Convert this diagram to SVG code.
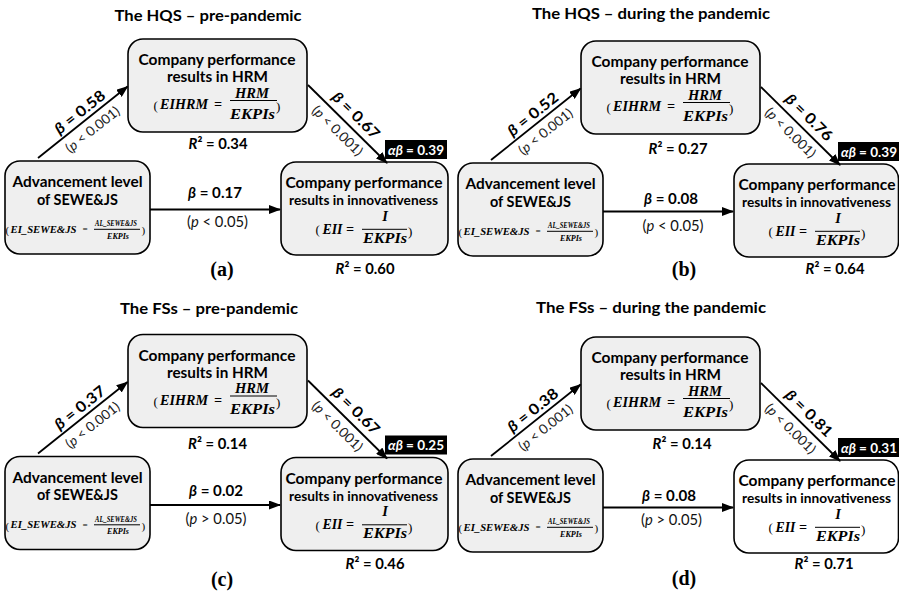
<svg xmlns="http://www.w3.org/2000/svg" width="899" height="592" viewBox="0 0 899 592">
<defs>
<marker id="arr" markerUnits="userSpaceOnUse" markerWidth="12" markerHeight="9" refX="11" refY="4.5" orient="auto"><path d="M0,0 L12,4.5 L0,9 z" fill="#000"/></marker>
<style>
.box{fill:#efefef;stroke:#000;stroke-width:1.6}
.wbox{fill:#fff;stroke:#000;stroke-width:1.6}
.s{font-family:Lato,"Liberation Sans",sans-serif;text-anchor:middle;fill:#000}
.h1{font-size:15px;font-weight:bold}
.h2{font-size:13.5px;font-weight:bold}
.ttl{font-size:15px;font-weight:bold}
.f{font-family:"Liberation Serif","DejaVu Serif",serif;font-weight:bold;font-style:italic;fill:#000}
.fp{font-family:"Liberation Serif","DejaVu Serif",serif;fill:#000}
.fl{stroke:#000;stroke-width:1}
.conn{stroke:#000;stroke-width:1.8;fill:none;marker-end:url(#arr)}
.bl{font-size:15px;font-weight:bold}
.pl{font-size:13.5px;fill:#222}
.ph{font-size:15px;fill:#111}
.i{font-style:italic}
.abt{font-size:14px;font-weight:bold;fill:#fff}
.lt{font-family:"Liberation Serif","Times New Roman",serif;font-size:20px;font-weight:bold;text-anchor:middle;fill:#000}
</style>
</defs>
<rect width="899" height="592" fill="#fff"/>

<!-- Panel (a) -->
<g id="panel-a">
<text class="s ttl" x="208" y="20.5" textLength="187" lengthAdjust="spacingAndGlyphs">The HQS – pre-pandemic</text>
<g id="a-sewe">
<rect class="box" x="5" y="161" width="145" height="93" rx="15"/>
<text class="s h1" x="77.5" y="187" textLength="130" lengthAdjust="spacingAndGlyphs">Advancement level</text>
<text class="s h1" x="77.5" y="204.5" textLength="81" lengthAdjust="spacingAndGlyphs">of SEWE&amp;JS</text>
<text class="fp" x="5.5" y="234" font-size="11">(</text>
<text class="f" x="10.5" y="232.5" font-size="11" textLength="66" lengthAdjust="spacingAndGlyphs">EI_SEWE&amp;JS</text>
<text class="f" x="85" y="232" font-size="9" text-anchor="middle" font-style="normal">=</text>
<text class="f" x="116" y="226" font-size="7.5" text-anchor="middle" textLength="42" lengthAdjust="spacingAndGlyphs">AL_SEWE&amp;JS</text>
<line class="fl" x1="94" y1="229.3" x2="140" y2="229.3" stroke-width="0.7"/>
<text class="f" x="118" y="238.8" font-size="7.5" text-anchor="middle" textLength="22" lengthAdjust="spacingAndGlyphs">EKPIs</text>
<text class="fp" x="141.5" y="234" font-size="11">)</text>
</g>
<g id="a-hrm">
<rect class="box" x="128" y="39" width="179" height="93" rx="15"/>
<text class="s h1" x="217" y="65" textLength="157" lengthAdjust="spacingAndGlyphs">Company performance</text>
<text class="s h1" x="217.5" y="82" textLength="101" lengthAdjust="spacingAndGlyphs">results in HRM</text>
<text class="fp" x="153.5" y="110" font-size="13">(</text>
<text class="f" x="160" y="109" font-size="14.5" textLength="48" lengthAdjust="spacingAndGlyphs">EIHRM</text>
<text class="f" x="218" y="109" font-size="14" text-anchor="middle" font-style="normal">=</text>
<text class="f" x="252" y="97.5" font-size="14.5" text-anchor="middle" textLength="34" lengthAdjust="spacingAndGlyphs">HRM</text>
<line class="fl" x1="230" y1="100.5" x2="277" y2="100.5"/>
<text class="f" x="252.5" y="118.5" font-size="14.5" text-anchor="middle" textLength="45" lengthAdjust="spacingAndGlyphs">EKPIs</text>
<text class="fp" x="276" y="111" font-size="13">)</text>
<text class="s bl" x="218" y="149" textLength="59" lengthAdjust="spacingAndGlyphs"><tspan class="i">R</tspan>² = 0.34</text>
</g>
<g id="a-inn">
<rect class="box" x="281" y="162" width="167" height="93" rx="15"/>
<text class="s h1" x="364" y="188" textLength="157" lengthAdjust="spacingAndGlyphs">Company performance</text>
<text class="s h2" x="363.5" y="205" textLength="149" lengthAdjust="spacingAndGlyphs">results in innovativeness</text>
<text class="fp" x="315.5" y="234" font-size="13">(</text>
<text class="f" x="322.5" y="233.5" font-size="14.5" textLength="20" lengthAdjust="spacingAndGlyphs">EII</text>
<text class="f" x="350" y="233.5" font-size="14" text-anchor="middle" font-style="normal">=</text>
<text class="f" x="385" y="220.5" font-size="14.5" text-anchor="middle">I</text>
<line class="fl" x1="362" y1="229.3" x2="407" y2="229.3"/>
<text class="f" x="385" y="242.5" font-size="14.5" text-anchor="middle" textLength="44" lengthAdjust="spacingAndGlyphs">EKPIs</text>
<text class="fp" x="408" y="236" font-size="13">)</text>
<text class="s bl" x="365" y="274" textLength="59" lengthAdjust="spacingAndGlyphs"><tspan class="i">R</tspan>² = 0.60</text>
</g>
<g id="a-edges">
<line class="conn" x1="38" y1="158" x2="127.5" y2="86.5"/>
<line class="conn" x1="308" y1="85" x2="387" y2="163"/>
<line class="conn" x1="150" y1="209.5" x2="280" y2="209.5"/>
<g transform="translate(82.75,122.25) rotate(-38.6)">
<text class="s bl" x="4" y="-4.5" textLength="60" lengthAdjust="spacingAndGlyphs"><tspan class="i">β</tspan> = 0.58</text>
<text class="s pl" x="3" y="16.5" textLength="65" lengthAdjust="spacingAndGlyphs">(<tspan class="i">p</tspan> &lt; 0.001)</text>
</g>
<g transform="translate(347.5,124) rotate(44.6)">
<text class="s bl" x="0" y="-7" textLength="60" lengthAdjust="spacingAndGlyphs"><tspan class="i">β</tspan> = 0.67</text>
<text class="s pl" x="-2.5" y="16.5" textLength="65" lengthAdjust="spacingAndGlyphs">(<tspan class="i">p</tspan> &lt; 0.001)</text>
</g>
<text class="s bl" x="215" y="198" textLength="54" lengthAdjust="spacingAndGlyphs"><tspan class="i">β</tspan> = 0.17</text>
<text class="s ph" x="217.5" y="227" textLength="61" lengthAdjust="spacingAndGlyphs">(<tspan class="i">p</tspan> &lt; 0.05)</text>
<rect x="385" y="140" width="62" height="19" fill="#000"/>
<text class="s abt" x="416" y="154.5" textLength="56" lengthAdjust="spacingAndGlyphs"><tspan class="i">αβ</tspan> = 0.39</text>
</g>
<text class="lt" x="222" y="276">(a)</text>
</g>

<!-- Panel (b) -->
<g id="panel-b" transform="translate(453,2)">
<text class="s ttl" x="198" y="17" textLength="238" lengthAdjust="spacingAndGlyphs">The HQS – during the pandemic</text>
<g id="b-sewe">
<rect class="box" x="5" y="161" width="145" height="93" rx="15"/>
<text class="s h1" x="77.5" y="187" textLength="130" lengthAdjust="spacingAndGlyphs">Advancement level</text>
<text class="s h1" x="77.5" y="204.5" textLength="81" lengthAdjust="spacingAndGlyphs">of SEWE&amp;JS</text>
<text class="fp" x="5.5" y="234" font-size="11">(</text>
<text class="f" x="10.5" y="232.5" font-size="11" textLength="66" lengthAdjust="spacingAndGlyphs">EI_SEWE&amp;JS</text>
<text class="f" x="85" y="232" font-size="9" text-anchor="middle" font-style="normal">=</text>
<text class="f" x="116" y="226" font-size="7.5" text-anchor="middle" textLength="42" lengthAdjust="spacingAndGlyphs">AL_SEWE&amp;JS</text>
<line class="fl" x1="94" y1="229.3" x2="140" y2="229.3" stroke-width="0.7"/>
<text class="f" x="118" y="238.8" font-size="7.5" text-anchor="middle" textLength="22" lengthAdjust="spacingAndGlyphs">EKPIs</text>
<text class="fp" x="141.5" y="234" font-size="11">)</text>
</g>
<g id="b-hrm">
<rect class="box" x="128" y="39" width="179" height="93" rx="15"/>
<text class="s h1" x="217" y="65" textLength="157" lengthAdjust="spacingAndGlyphs">Company performance</text>
<text class="s h1" x="217.5" y="82" textLength="101" lengthAdjust="spacingAndGlyphs">results in HRM</text>
<text class="fp" x="153.5" y="110" font-size="13">(</text>
<text class="f" x="160" y="109" font-size="14.5" textLength="48" lengthAdjust="spacingAndGlyphs">EIHRM</text>
<text class="f" x="218" y="109" font-size="14" text-anchor="middle" font-style="normal">=</text>
<text class="f" x="252" y="97.5" font-size="14.5" text-anchor="middle" textLength="34" lengthAdjust="spacingAndGlyphs">HRM</text>
<line class="fl" x1="230" y1="100.5" x2="277" y2="100.5"/>
<text class="f" x="252.5" y="118.5" font-size="14.5" text-anchor="middle" textLength="45" lengthAdjust="spacingAndGlyphs">EKPIs</text>
<text class="fp" x="276" y="111" font-size="13">)</text>
<text class="s bl" x="225" y="152" textLength="59" lengthAdjust="spacingAndGlyphs"><tspan class="i">R</tspan>² = 0.27</text>
</g>
<g id="b-inn">
<rect class="box" x="281" y="162" width="164.5" height="93" rx="15"/>
<text class="s h1" x="364" y="188" textLength="157" lengthAdjust="spacingAndGlyphs">Company performance</text>
<text class="s h2" x="363.5" y="205" textLength="149" lengthAdjust="spacingAndGlyphs">results in innovativeness</text>
<text class="fp" x="315.5" y="234" font-size="13">(</text>
<text class="f" x="322.5" y="233.5" font-size="14.5" textLength="20" lengthAdjust="spacingAndGlyphs">EII</text>
<text class="f" x="350" y="233.5" font-size="14" text-anchor="middle" font-style="normal">=</text>
<text class="f" x="385" y="220.5" font-size="14.5" text-anchor="middle">I</text>
<line class="fl" x1="362" y1="229.3" x2="407" y2="229.3"/>
<text class="f" x="385" y="242.5" font-size="14.5" text-anchor="middle" textLength="44" lengthAdjust="spacingAndGlyphs">EKPIs</text>
<text class="fp" x="408" y="236" font-size="13">)</text>
<text class="s bl" x="382" y="272" textLength="59" lengthAdjust="spacingAndGlyphs"><tspan class="i">R</tspan>² = 0.64</text>
</g>
<g id="b-edges">
<line class="conn" x1="38" y1="158" x2="127.5" y2="86.5"/>
<line class="conn" x1="308" y1="85" x2="387" y2="163"/>
<line class="conn" x1="150" y1="209.5" x2="280" y2="209.5"/>
<g transform="translate(82.75,122.25) rotate(-38.6)">
<text class="s bl" x="4" y="-4.5" textLength="60" lengthAdjust="spacingAndGlyphs"><tspan class="i">β</tspan> = 0.52</text>
<text class="s pl" x="3" y="16.5" textLength="65" lengthAdjust="spacingAndGlyphs">(<tspan class="i">p</tspan> &lt; 0.001)</text>
</g>
<g transform="translate(347.5,124) rotate(44.6)">
<text class="s bl" x="0" y="-7" textLength="60" lengthAdjust="spacingAndGlyphs"><tspan class="i">β</tspan> = 0.76</text>
<text class="s pl" x="-2.5" y="16.5" textLength="65" lengthAdjust="spacingAndGlyphs">(<tspan class="i">p</tspan> &lt; 0.001)</text>
</g>
<text class="s bl" x="218" y="202" textLength="54" lengthAdjust="spacingAndGlyphs"><tspan class="i">β</tspan> = 0.08</text>
<text class="s ph" x="220" y="229" textLength="61" lengthAdjust="spacingAndGlyphs">(<tspan class="i">p</tspan> &lt; 0.05)</text>
<rect x="385" y="140" width="62" height="19" fill="#000"/>
<text class="s abt" x="416" y="154.5" textLength="56" lengthAdjust="spacingAndGlyphs"><tspan class="i">αβ</tspan> = 0.39</text>
</g>
<text class="lt" x="231" y="274">(b)</text>
</g>

<!-- Panel (c) -->
<g id="panel-c" transform="translate(0,295.5)">
<text class="s ttl" x="209" y="18.5" textLength="178" lengthAdjust="spacingAndGlyphs">The FSs – pre-pandemic</text>
<g id="c-sewe">
<rect class="box" x="5" y="161" width="145" height="93" rx="15"/>
<text class="s h1" x="77.5" y="187" textLength="130" lengthAdjust="spacingAndGlyphs">Advancement level</text>
<text class="s h1" x="77.5" y="204.5" textLength="81" lengthAdjust="spacingAndGlyphs">of SEWE&amp;JS</text>
<text class="fp" x="5.5" y="234" font-size="11">(</text>
<text class="f" x="10.5" y="232.5" font-size="11" textLength="66" lengthAdjust="spacingAndGlyphs">EI_SEWE&amp;JS</text>
<text class="f" x="85" y="232" font-size="9" text-anchor="middle" font-style="normal">=</text>
<text class="f" x="116" y="226" font-size="7.5" text-anchor="middle" textLength="42" lengthAdjust="spacingAndGlyphs">AL_SEWE&amp;JS</text>
<line class="fl" x1="94" y1="229.3" x2="140" y2="229.3" stroke-width="0.7"/>
<text class="f" x="118" y="238.8" font-size="7.5" text-anchor="middle" textLength="22" lengthAdjust="spacingAndGlyphs">EKPIs</text>
<text class="fp" x="141.5" y="234" font-size="11">)</text>
</g>
<g id="c-hrm">
<rect class="box" x="128" y="39" width="179" height="93" rx="15"/>
<text class="s h1" x="217" y="65" textLength="157" lengthAdjust="spacingAndGlyphs">Company performance</text>
<text class="s h1" x="217.5" y="82" textLength="101" lengthAdjust="spacingAndGlyphs">results in HRM</text>
<text class="fp" x="153.5" y="110" font-size="13">(</text>
<text class="f" x="160" y="109" font-size="14.5" textLength="48" lengthAdjust="spacingAndGlyphs">EIHRM</text>
<text class="f" x="218" y="109" font-size="14" text-anchor="middle" font-style="normal">=</text>
<text class="f" x="252" y="97.5" font-size="14.5" text-anchor="middle" textLength="34" lengthAdjust="spacingAndGlyphs">HRM</text>
<line class="fl" x1="230" y1="100.5" x2="277" y2="100.5"/>
<text class="f" x="252.5" y="118.5" font-size="14.5" text-anchor="middle" textLength="45" lengthAdjust="spacingAndGlyphs">EKPIs</text>
<text class="fp" x="276" y="111" font-size="13">)</text>
<text class="s bl" x="217.5" y="153.5" textLength="59" lengthAdjust="spacingAndGlyphs"><tspan class="i">R</tspan>² = 0.14</text>
</g>
<g id="c-inn">
<rect class="box" x="281" y="162" width="167" height="93" rx="15"/>
<text class="s h1" x="364" y="188" textLength="157" lengthAdjust="spacingAndGlyphs">Company performance</text>
<text class="s h2" x="363.5" y="205" textLength="149" lengthAdjust="spacingAndGlyphs">results in innovativeness</text>
<text class="fp" x="315.5" y="234" font-size="13">(</text>
<text class="f" x="322.5" y="233.5" font-size="14.5" textLength="20" lengthAdjust="spacingAndGlyphs">EII</text>
<text class="f" x="350" y="233.5" font-size="14" text-anchor="middle" font-style="normal">=</text>
<text class="f" x="385" y="220.5" font-size="14.5" text-anchor="middle">I</text>
<line class="fl" x1="362" y1="229.3" x2="407" y2="229.3"/>
<text class="f" x="385" y="242.5" font-size="14.5" text-anchor="middle" textLength="44" lengthAdjust="spacingAndGlyphs">EKPIs</text>
<text class="fp" x="408" y="236" font-size="13">)</text>
<text class="s bl" x="375" y="273.5" textLength="59" lengthAdjust="spacingAndGlyphs"><tspan class="i">R</tspan>² = 0.46</text>
</g>
<g id="c-edges">
<line class="conn" x1="38" y1="158" x2="127.5" y2="86.5"/>
<line class="conn" x1="308" y1="85" x2="387" y2="163"/>
<line class="conn" x1="150" y1="209.5" x2="280" y2="209.5"/>
<g transform="translate(82.75,122.25) rotate(-38.6)">
<text class="s bl" x="4" y="-4.5" textLength="60" lengthAdjust="spacingAndGlyphs"><tspan class="i">β</tspan> = 0.37</text>
<text class="s pl" x="3" y="16.5" textLength="65" lengthAdjust="spacingAndGlyphs">(<tspan class="i">p</tspan> &lt; 0.001)</text>
</g>
<g transform="translate(347.5,124) rotate(44.6)">
<text class="s bl" x="0" y="-7" textLength="60" lengthAdjust="spacingAndGlyphs"><tspan class="i">β</tspan> = 0.67</text>
<text class="s pl" x="-2.5" y="16.5" textLength="65" lengthAdjust="spacingAndGlyphs">(<tspan class="i">p</tspan> &lt; 0.001)</text>
</g>
<text class="s bl" x="216" y="200" textLength="54" lengthAdjust="spacingAndGlyphs"><tspan class="i">β</tspan> = 0.02</text>
<text class="s ph" x="216" y="228" textLength="61" lengthAdjust="spacingAndGlyphs">(<tspan class="i">p</tspan> &gt; 0.05)</text>
<rect x="385" y="140" width="62" height="19" fill="#000"/>
<text class="s abt" x="416" y="154.5" textLength="56" lengthAdjust="spacingAndGlyphs"><tspan class="i">αβ</tspan> = 0.25</text>
</g>
<text class="lt" x="222" y="290">(c)</text>
</g>

<!-- Panel (d) -->
<g id="panel-d" transform="translate(453,298)">
<text class="s ttl" x="198" y="15.3" textLength="230" lengthAdjust="spacingAndGlyphs">The FSs – during the pandemic</text>
<g id="d-sewe">
<rect class="box" x="5" y="161" width="145" height="93" rx="15"/>
<text class="s h1" x="77.5" y="187" textLength="130" lengthAdjust="spacingAndGlyphs">Advancement level</text>
<text class="s h1" x="77.5" y="204.5" textLength="81" lengthAdjust="spacingAndGlyphs">of SEWE&amp;JS</text>
<text class="fp" x="5.5" y="234" font-size="11">(</text>
<text class="f" x="10.5" y="232.5" font-size="11" textLength="66" lengthAdjust="spacingAndGlyphs">EI_SEWE&amp;JS</text>
<text class="f" x="85" y="232" font-size="9" text-anchor="middle" font-style="normal">=</text>
<text class="f" x="116" y="226" font-size="7.5" text-anchor="middle" textLength="42" lengthAdjust="spacingAndGlyphs">AL_SEWE&amp;JS</text>
<line class="fl" x1="94" y1="229.3" x2="140" y2="229.3" stroke-width="0.7"/>
<text class="f" x="118" y="238.8" font-size="7.5" text-anchor="middle" textLength="22" lengthAdjust="spacingAndGlyphs">EKPIs</text>
<text class="fp" x="141.5" y="234" font-size="11">)</text>
</g>
<g id="d-hrm">
<rect class="box" x="128" y="39" width="179" height="93" rx="15"/>
<text class="s h1" x="217" y="65" textLength="157" lengthAdjust="spacingAndGlyphs">Company performance</text>
<text class="s h1" x="217.5" y="82" textLength="101" lengthAdjust="spacingAndGlyphs">results in HRM</text>
<text class="fp" x="153.5" y="110" font-size="13">(</text>
<text class="f" x="160" y="109" font-size="14.5" textLength="48" lengthAdjust="spacingAndGlyphs">EIHRM</text>
<text class="f" x="218" y="109" font-size="14" text-anchor="middle" font-style="normal">=</text>
<text class="f" x="252" y="97.5" font-size="14.5" text-anchor="middle" textLength="34" lengthAdjust="spacingAndGlyphs">HRM</text>
<line class="fl" x1="230" y1="100.5" x2="277" y2="100.5"/>
<text class="f" x="252.5" y="118.5" font-size="14.5" text-anchor="middle" textLength="45" lengthAdjust="spacingAndGlyphs">EKPIs</text>
<text class="fp" x="276" y="111" font-size="13">)</text>
<text class="s bl" x="229" y="151.3" textLength="59" lengthAdjust="spacingAndGlyphs"><tspan class="i">R</tspan>² = 0.14</text>
</g>
<g id="d-inn">
<rect class="wbox" x="281" y="162" width="164.5" height="93" rx="15"/>
<text class="s h1" x="364" y="188" textLength="157" lengthAdjust="spacingAndGlyphs">Company performance</text>
<text class="s h2" x="363.5" y="205" textLength="149" lengthAdjust="spacingAndGlyphs">results in innovativeness</text>
<text class="fp" x="315.5" y="234" font-size="13">(</text>
<text class="f" x="322.5" y="233.5" font-size="14.5" textLength="20" lengthAdjust="spacingAndGlyphs">EII</text>
<text class="f" x="350" y="233.5" font-size="14" text-anchor="middle" font-style="normal">=</text>
<text class="f" x="385" y="220.5" font-size="14.5" text-anchor="middle">I</text>
<line class="fl" x1="362" y1="229.3" x2="407" y2="229.3"/>
<text class="f" x="385" y="242.5" font-size="14.5" text-anchor="middle" textLength="44" lengthAdjust="spacingAndGlyphs">EKPIs</text>
<text class="fp" x="408" y="236" font-size="13">)</text>
<text class="s bl" x="371" y="271" textLength="59" lengthAdjust="spacingAndGlyphs"><tspan class="i">R</tspan>² = 0.71</text>
</g>
<g id="d-edges">
<line class="conn" x1="38" y1="158" x2="127.5" y2="86.5"/>
<line class="conn" x1="308" y1="85" x2="387" y2="163"/>
<line class="conn" x1="150" y1="209.5" x2="280" y2="209.5"/>
<g transform="translate(82.75,122.25) rotate(-38.6)">
<text class="s bl" x="4" y="-4.5" textLength="60" lengthAdjust="spacingAndGlyphs"><tspan class="i">β</tspan> = 0.38</text>
<text class="s pl" x="3" y="16.5" textLength="65" lengthAdjust="spacingAndGlyphs">(<tspan class="i">p</tspan> &lt; 0.001)</text>
</g>
<g transform="translate(347.5,124) rotate(44.6)">
<text class="s bl" x="0" y="-7" textLength="60" lengthAdjust="spacingAndGlyphs"><tspan class="i">β</tspan> = 0.81</text>
<text class="s pl" x="-2.5" y="16.5" textLength="65" lengthAdjust="spacingAndGlyphs">(<tspan class="i">p</tspan> &lt; 0.001)</text>
</g>
<text class="s bl" x="216" y="202.7" textLength="54" lengthAdjust="spacingAndGlyphs"><tspan class="i">β</tspan> = 0.08</text>
<text class="s ph" x="218.5" y="227" textLength="61" lengthAdjust="spacingAndGlyphs">(<tspan class="i">p</tspan> &gt; 0.05)</text>
<rect x="385" y="140" width="62" height="19" fill="#000"/>
<text class="s abt" x="416" y="154.5" textLength="56" lengthAdjust="spacingAndGlyphs"><tspan class="i">αβ</tspan> = 0.31</text>
</g>
<text class="lt" x="231" y="287">(d)</text>
</g>
</svg>
